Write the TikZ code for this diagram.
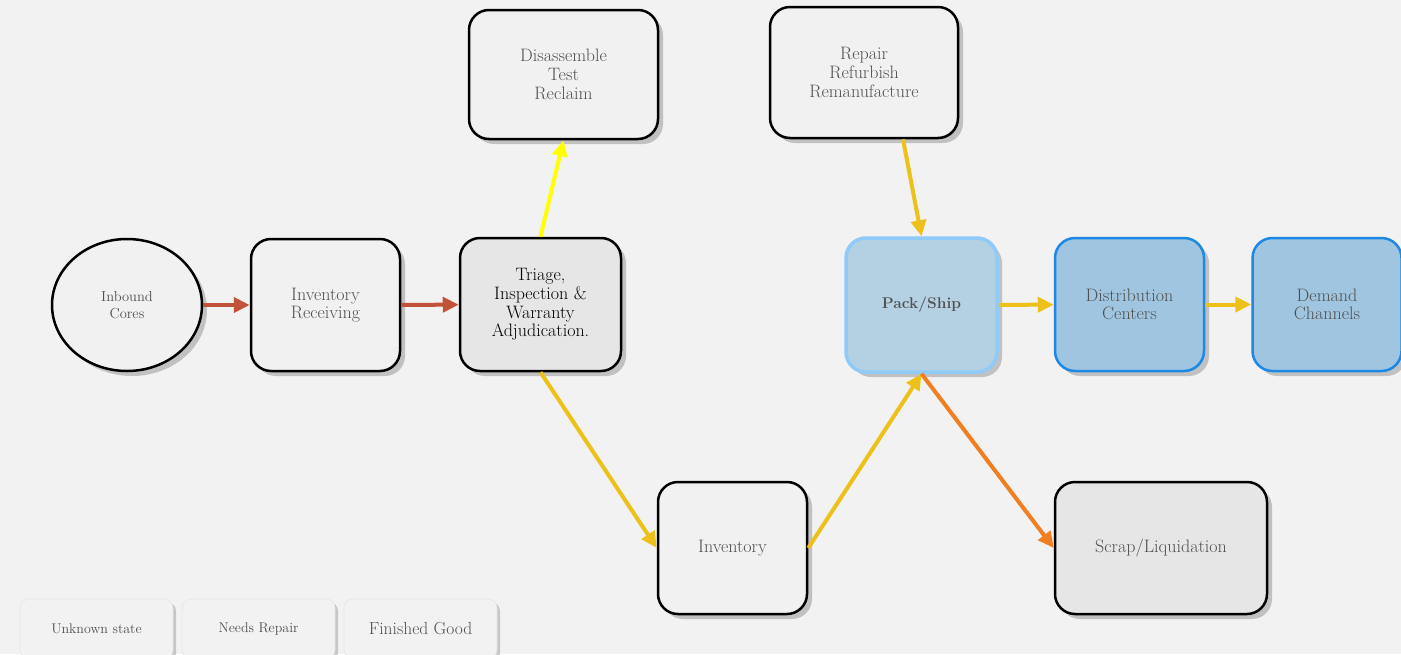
\documentclass[tikz,border=0pt]{standalone}
\usetikzlibrary{shapes.geometric,arrows.meta,shadows,calc}
\definecolor{bg}{HTML}{F2F2F2}
\definecolor{boxfill}{HTML}{F1F1F1}
\definecolor{grayfill}{HTML}{E6E6E6}
\definecolor{txtgray}{HTML}{505050}
\definecolor{packfill}{HTML}{B4D0E3}
\definecolor{packedge}{HTML}{90CAF9}
\definecolor{bluefill}{HTML}{9FC5E0}
\definecolor{blueedge}{HTML}{1E88E5}
\definecolor{rust}{HTML}{C0533A}
\definecolor{gold}{HTML}{EEC11A}
\definecolor{yel}{HTML}{FFFF00}
\definecolor{orng}{HTML}{F07F22}
\tikzset{
  shad/.style={drop shadow={shadow xshift=5pt,shadow yshift=-5pt,opacity=0.35,fill=black!60}},
  procbox/.style={draw=black,line width=2.5pt,rounded corners=20pt,fill=boxfill,
    align=center,text=txtgray,font=\fontsize{18}{18.5}\selectfont,shad,
    minimum width=149pt,minimum height=132pt,inner sep=2pt},
  bluebox/.style={procbox,draw=blueedge,fill=bluefill},
  legbox/.style={draw=black!10,line width=0.6pt,rounded corners=9pt,fill=bg,
    drop shadow={shadow xshift=3pt,shadow yshift=-3pt,opacity=0.3,fill=black!60},
    text=txtgray,minimum width=153pt,minimum height=60pt,align=center},
  flow/.style={line width=4pt,-{Triangle[length=16pt,width=15pt]}},
}
\begin{document}
\begin{tikzpicture}[x=1pt,y=-1pt]
\useasboundingbox (0,0) rectangle (1401,654);
\fill[bg] (0,0) rectangle (1401,654);

\node[procbox,ellipse,rounded corners=0pt,minimum width=150pt,minimum height=132pt,
  font=\fontsize{14.5}{16.5}\selectfont] (inb) at (127,305) {Inbound\\Cores};
\node[procbox] (rec) at (325.5,305) {Inventory\\Receiving};
\node[procbox,fill=grayfill,text=black,minimum width=161pt,minimum height=133pt,
  font=\fontsize{18}{18.7}\selectfont] (tri) at (540.5,304.5) {Triage,\\Inspection \&\\Warranty\\Adjudication.};
\node[procbox,minimum width=189pt,minimum height=129pt,font=\fontsize{18}{19}\selectfont] (dis) at (563.5,74.5) {Disassemble\\Test\\Reclaim};
\node[procbox,minimum width=188pt,minimum height=131pt,font=\fontsize{18}{19}\selectfont] (rep) at (864,72.5) {Repair\\Refurbish\\Remanufacture};
\node[procbox,draw=packedge,fill=packfill,line width=3.5pt,minimum width=151pt,minimum height=134pt,
  text=black!68,font=\fontsize{15.5}{18}\selectfont\bfseries] (pack) at (921.5,305) {Pack/Ship};
\node[bluebox,minimum height=133pt] (dc) at (1129.5,304.5) {Distribution\\Centers};
\node[bluebox,minimum height=133pt] (dem) at (1327,304.5) {Demand\\Channels};
\node[procbox] (inv) at (732.5,548) {Inventory};
\node[procbox,fill=grayfill,minimum width=212pt] (scr) at (1161,548) {Scrap/Liquidation};

\node[legbox,font=\fontsize{14}{16}\selectfont] (l1) at (96.5,629) {Unknown state};
\node[legbox,font=\fontsize{14}{16}\selectfont] (l2) at (258.5,629) {Needs Repair};
\node[legbox,font=\fontsize{17.5}{20}\selectfont] (l3) at (420.5,629) {Finished Good};

\draw[flow,rust] (inb) -- (rec);
\draw[flow,rust] (rec) -- (tri);
\draw[flow,yel] (tri.north) -- (dis.south);
\draw[flow,gold] (tri.south) -- (inv.west);
\draw[flow,gold] (inv.east) -- (pack.south);
\draw[flow,gold] ([xshift=39pt]rep.south) -- (pack.north);
\draw[flow,gold] (pack) -- (dc);
\draw[flow,gold] (dc) -- (dem);
\draw[flow,orng] (pack.south) -- (scr.west);
\end{tikzpicture}
\end{document}
